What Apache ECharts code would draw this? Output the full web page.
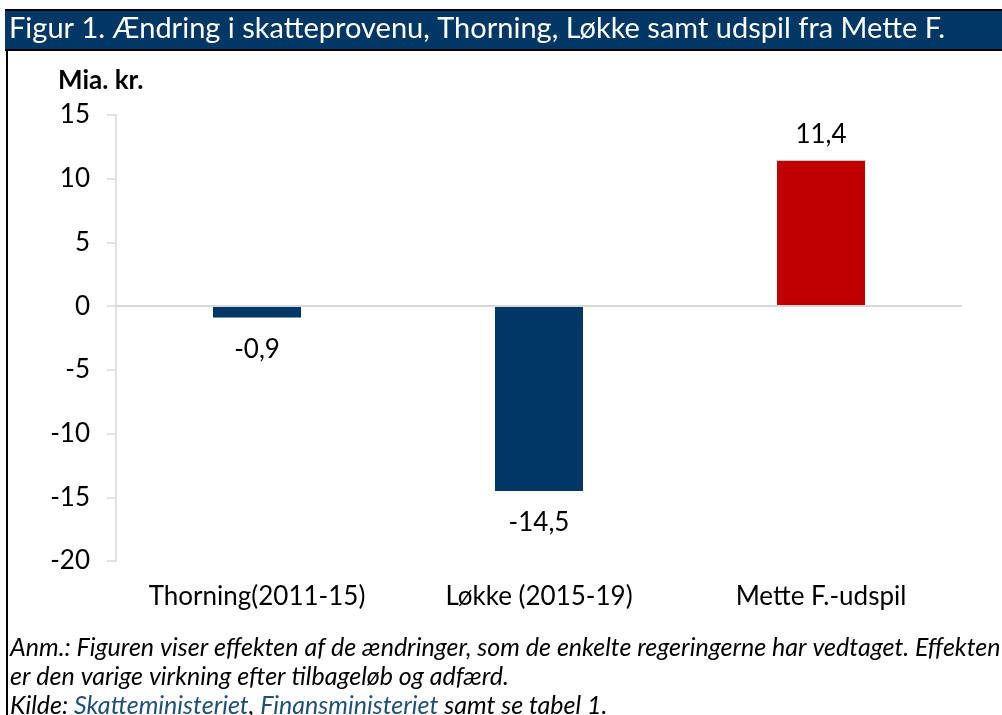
<!DOCTYPE html>
<html><head><meta charset="utf-8">
<script src="https://cdn.jsdelivr.net/npm/echarts@6/dist/echarts.min.js"></script>
<style>html,body{margin:0;padding:0;background:#fff}#c{width:1002px;height:715px}</style>
</head><body><div id="c"></div>
<script>
const categories = ['Thorning(2011-15)', 'Løkke (2015-19)', 'Mette F.-udspil'];
const values = [-0.9, -14.5, 11.4];
const barColors = ['#003764', '#003764', '#C00000'];
const yTicks = { min: -20, max: 15, interval: 5 };
const titleText = 'Figur 1. Ændring i skatteprovenu, Thorning, Løkke samt udspil fra Mette F.';
const unitText = 'Mia. kr.';
const noteLine1 = 'Anm.: Figuren viser effekten af de ændringer, som de enkelte regeringerne har vedtaget. Effekten';
const noteLine2 = 'er den varige virkning efter tilbageløb og adfærd.';
const sourceParts = ['Kilde: ', 'Skatteministeriet', ', ', 'Finansministeriet', ' samt se tabel 1.'];

const FONT = 'Lato, "Open Sans", sans-serif';
const chart = echarts.init(document.getElementById('c'), null, {renderer: 'canvas'});
const fmt = v => String(v).replace('.', ',');

chart.setOption({
  animation: false,
  textStyle: { fontFamily: FONT },
  grid: { left: 116, right: 40, top: 115, bottom: 154, containLabel: false },
  xAxis: {
    type: 'category', data: categories,
    axisLine: { show: false, onZero: false },
    axisTick: { show: false },
    axisLabel: { color: '#000', fontSize: 26, margin: 23, fontFamily: FONT }
  },
  yAxis: {
    type: 'value', min: yTicks.min, max: yTicks.max, interval: yTicks.interval,
    axisLine: { show: true, lineStyle: { color: '#d9d9d9', width: 1.5 } },
    axisTick: { show: true, length: 9, lineStyle: { color: '#d9d9d9', width: 1.5 } },
    splitLine: { show: false },
    axisLabel: { color: '#000', fontSize: 26, margin: 26, fontFamily: FONT }
  },
  series: [{
    type: 'bar',
    barWidth: 88,
    data: values.map((v, i) => ({
      value: v,
      itemStyle: { color: barColors[i] },
      label: { position: v < 0 ? 'bottom' : 'top', distance: v < 0 ? 19 : 13 }
    })),
    label: { show: true, color: '#000', fontSize: 26, fontFamily: FONT, formatter: p => fmt(p.value) },
    markLine: {
      silent: true, symbol: 'none', label: { show: false },
      lineStyle: { color: '#d9d9d9', width: 2, type: 'solid' },
      data: [{ yAxis: 0 }]
    },
    z: 3
  }],
  graphic: [
    { type: 'rect', shape: { x: 5, y: 10, width: 997, height: 40 }, style: { fill: '#003764' }, z: 1 },
    { type: 'rect', shape: { x: 5, y: 9, width: 997, height: 2 }, style: { fill: '#000' }, z: 2 },
    { type: 'rect', shape: { x: 5, y: 49, width: 997, height: 2 }, style: { fill: '#000' }, z: 2 },
    { type: 'rect', shape: { x: 6, y: 50, width: 2, height: 665 }, style: { fill: '#000' }, z: 2 },
    { type: 'text', left: 9, top: 14, style: { text: titleText, fill: '#fff', font: '29px ' + FONT }, z: 3 },
    { type: 'text', left: 58, top: 68, style: { text: unitText, fill: '#000', font: 'bold 26px ' + FONT }, z: 3 },
    { type: 'text', left: 10, top: 635, style: { text: noteLine1, fill: '#000', font: 'italic 25px ' + FONT }, z: 3 },
    { type: 'text', left: 10, top: 664, style: { text: noteLine2, fill: '#000', font: 'italic 25px ' + FONT }, z: 3 },
    { type: 'text', left: 10, top: 693, style: {
        text: '{a|' + sourceParts[0] + '}{b|' + sourceParts[1] + '}{a|' + sourceParts[2] + '}{b|' + sourceParts[3] + '}{a|' + sourceParts[4] + '}',
        font: 'italic 25px ' + FONT,
        rich: {
          a: { fill: '#000', font: 'italic 25px ' + FONT },
          b: { fill: '#1F4E79', font: 'italic 25px ' + FONT }
        }
      }, z: 3 }
  ]
});
</script></body></html>
